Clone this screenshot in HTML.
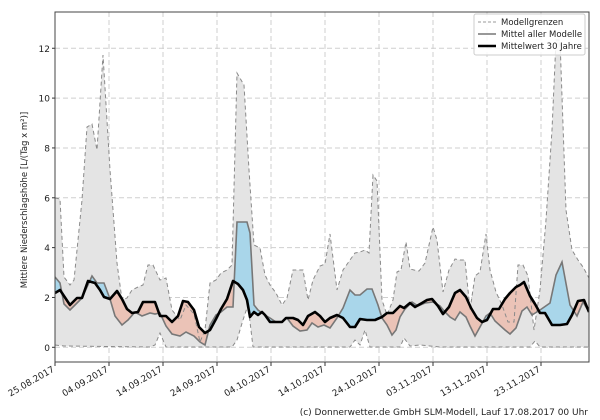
<!DOCTYPE html>
<html><head><meta charset="utf-8"><style>
html,body{margin:0;padding:0;background:#fff;}
svg{display:block;font-family:"DejaVu Sans","Liberation Sans",sans-serif;}
</style></head><body>
<svg width="600" height="420" viewBox="0 0 600 420" xmlns="http://www.w3.org/2000/svg">
<defs>
<clipPath id="plot"><rect x="55" y="12" width="534" height="350"/></clipPath>
</defs>
<g id="g"></g>
</svg>
<script>
const NS="http://www.w3.org/2000/svg";
const g=document.getElementById('g');
function el(t,a,txt){const e=document.createElementNS(NS,t);for(const k in a)e.setAttribute(k,a[k]);if(txt!==undefined)e.textContent=txt;g.appendChild(e);return e;}
function pts(a){return a.map(p=>p[0]+','+p[1]).join(' ');}
const clim=[[55,293],[60,290],[70,305],[77,298],[82,298],[88,281],[95,283],[100,290],[104,297],[110,299],[117,291],[122,299],[127,309],[132,313],[138,312],[143,302],[150,302],[155,302],[160,316],[166,316],[172,322],[178,316],[183,301],[188,302],[194,310],[199,327],[205,333],[210,330],[216,319],[221,309],[227,299],[233,281],[238,284],[243,290],[247,300],[250,317],[254,312],[258,315],[262,312],[265,315],[270,322],[276,322],[282,322],[286,318],[293,318],[298,320],[303,325],[308,316],[315,312],[320,316],[325,322],[330,318],[337,315],[343,318],[350,327],[355,327],[360,319],[367,320],[375,320],[382,317],[387,313],[393,313],[400,306],[404,308],[410,303],[415,307],[422,303],[427,300],[432,299],[438,306],[443,314],[449,307],[455,293],[460,290],[466,297],[471,308],[477,318],[482,322],[487,320],[493,309],[499,309],[505,299],[510,293],[516,287],[520,285],[524,282],[530,296],[535,304],[540,313],[545,313],[552,325],[560,325],[567,324],[572,315],[578,301],[584,300],[589,312]];
const mean=[[55,277],[60,283],[64,304],[70,310],[75,305],[82,298],[92,276],[97,283],[104,283],[110,299],[115,316],[122,325],[128,320],[135,312],[142,316],[150,313],[155,314],[160,313],[166,326],[172,334],[180,336],[186,332],[194,336],[200,342],[205,345],[210,325],[216,315],[221,312],[227,307],[233,307],[237,222],[247,222],[250,233],[254,305],[258,310],[265,315],[270,318],[276,322],[282,322],[287,318],[293,326],[300,331],[307,330],[312,323],[318,327],[324,325],[330,328],[337,318],[343,308],[350,290],[355,295],[360,295],[367,289],[372,289],[378,305],[382,318],[387,325],[392,335],[396,330],[400,317],[405,309],[412,302],[418,306],[425,303],[433,302],[440,306],[445,312],[450,317],[455,320],[460,312],[466,317],[470,326],[475,336],[480,327],[486,316],[490,313],[495,321],[505,330],[510,334],[516,328],[522,311],[527,307],[532,315],[540,310],[550,303],[556,275],[562,262],[570,305],[577,316],[583,302],[589,312]];
const mx=[[55,198],[60,199],[64,277],[70,285],[74,280],[82,200],[87,127],[92,124],[97,150],[103,55],[110,170],[117,263],[122,300],[127,298],[132,290],[138,287],[143,285],[148,265],[153,265],[160,280],[166,278],[172,310],[180,320],[186,305],[194,314],[200,342],[205,330],[210,283],[216,280],[221,273],[227,270],[232,265],[237,73],[244,85],[249,170],[254,245],[260,248],[265,275],[270,285],[276,293],[282,305],[287,298],[293,270],[298,270],[303,270],[308,300],[313,280],[320,266],[325,264],[330,234],[337,290],[343,270],[350,260],[355,253],[360,252],[365,250],[369,253],[373,175],[377,181],[382,300],[387,315],[393,300],[397,272],[401,270],[406,242],[410,269],[414,270],[419,271],[425,263],[433,227],[437,240],[443,292],[449,270],[455,259],[460,260],[465,260],[470,310],[475,276],[480,272],[486,234],[490,270],[496,292],[502,305],[508,322],[514,322],[518,265],[523,265],[528,276],[534,330],[540,290],[546,220],[552,130],[556,40],[560,40],[566,210],[572,250],[578,260],[583,267],[589,278]];
const mn=[[55,345],[64,346],[150,347],[155,345],[160,333],[166,347],[232,347],[237,340],[243,320],[248,305],[253,347],[350,347],[355,340],[360,345],[365,330],[370,347],[400,347],[404,338],[410,346],[420,345],[430,346],[440,347],[530,347],[535,341],[540,347],[589,347]];
for(let v=0;v<=12;v+=2){const y=347.3-24.92*v;el('line',{x1:55,x2:589,y1:y,y2:y,stroke:'#cfcfcf','stroke-dasharray':'5,3','stroke-width':1});
el('text',{x:50,y:y+3.5,'font-size':9,'text-anchor':'end',fill:'#222'},String(v));el('line',{x1:52,x2:55,y1:y,y2:y,stroke:'#333'});}
const labels=['25.08.2017','04.09.2017','14.09.2017','24.09.2017','04.10.2017','14.10.2017','24.10.2017','03.11.2017','13.11.2017','23.11.2017'];
labels.forEach((l,i)=>{const x=55+54*i;el('line',{x1:x,x2:x,y1:12,y2:362,stroke:'#cfcfcf','stroke-dasharray':'5,3'});
el('line',{x1:x,x2:x,y1:362,y2:366,stroke:'#333'});
el('text',{x:x,y:371,'font-size':9,'text-anchor':'end',fill:'#222',transform:`rotate(-30 ${x} 371)`},l);});
const c=el('g',{'clip-path':'url(#plot)'});
function ce(t,a){const e=el(t,a);c.appendChild(e);return e;}
ce('polygon',{points:pts(mx.concat(mn.slice().reverse())),fill:'#e4e4e4',stroke:'none'});
const band=pts(mean.concat(clim.slice().reverse()));
const defs=document.querySelector('defs');
function cp(id,poly){const p=document.createElementNS(NS,'clipPath');p.setAttribute('id',id);const q=document.createElementNS(NS,'polygon');q.setAttribute('points',poly);p.appendChild(q);defs.appendChild(p);}
cp('above',pts([[55,0]].concat(clim,[[589,0]])));
cp('below',pts([[55,420]].concat(clim,[[589,420]])));
ce('polygon',{points:band,fill:'#a9d6ea','clip-path':'url(#above)'});
ce('polygon',{points:band,fill:'#ebc3b7','clip-path':'url(#below)'});
ce('polyline',{points:pts(mx),fill:'none',stroke:'#8a8a8a','stroke-dasharray':'4,3','stroke-width':1});
ce('polyline',{points:pts(mn),fill:'none',stroke:'#8a8a8a','stroke-dasharray':'4,3','stroke-width':1});
ce('polyline',{points:pts(mean),fill:'none',stroke:'#777','stroke-width':1.6});
ce('polyline',{points:pts(clim),fill:'none',stroke:'#000','stroke-width':2.6,'stroke-linejoin':'round'});
el('rect',{x:55,y:12,width:534,height:350,fill:'none',stroke:'#444','stroke-width':1});
el('rect',{x:474,y:14,width:111,height:41,fill:'#fff','fill-opacity':0.85,stroke:'#ccc',rx:2});
el('line',{x1:478,x2:496,y1:22,y2:22,stroke:'#999','stroke-dasharray':'3,2'});
el('line',{x1:478,x2:496,y1:34,y2:34,stroke:'#777','stroke-width':1.6});
el('line',{x1:478,x2:496,y1:46,y2:46,stroke:'#000','stroke-width':2.6});
el('text',{x:501,y:25,'font-size':8.5,fill:'#222'},'Modellgrenzen');
el('text',{x:501,y:37,'font-size':8.5,fill:'#222'},'Mittel aller Modelle');
el('text',{x:501,y:49,'font-size':8.5,fill:'#222'},'Mittelwert 30 Jahre');
el('text',{x:27,y:200,'font-size':8.5,fill:'#222','text-anchor':'middle',transform:'rotate(-90 27 200)'},'Mittlere Niederschlagshöhe [L/(Tag x m²)]');
el('text',{x:588,y:415,'font-size':9,fill:'#222','text-anchor':'end'},'(c) Donnerwetter.de GmbH SLM-Modell, Lauf 17.08.2017 00 Uhr');
</script>
</body></html>
